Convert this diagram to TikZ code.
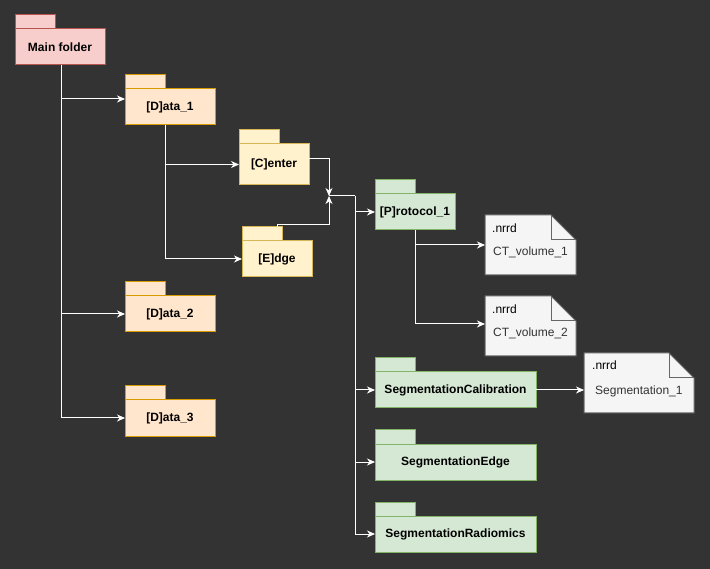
\documentclass[tikz,border=0pt]{standalone}
\usepackage{fontspec}
\setmainfont{Liberation Sans}
\usetikzlibrary{arrows.meta}
\definecolor{bg}{HTML}{333333}
\definecolor{redF}{HTML}{F8CECC}\definecolor{redD}{HTML}{B85450}
\definecolor{orgF}{HTML}{FFE6CC}\definecolor{orgD}{HTML}{D79B00}
\definecolor{yelF}{HTML}{FFF2CC}\definecolor{yelD}{HTML}{D6B656}
\definecolor{grnF}{HTML}{D5E8D4}\definecolor{grnD}{HTML}{82B366}
\definecolor{notF}{HTML}{F5F5F5}\definecolor{notD}{HTML}{666666}
\definecolor{notT}{HTML}{333333}
\newcommand\pkgbox[7]{%
  \draw[#6] (#2,#3) rectangle ++(40,-14);
  \node[#6, minimum width=#4pt, minimum height=#5pt, anchor=north west] (#1) at (#2,#3) {#7};
}
\newcommand\notebox[6]{% name, x, y, w, ext, file
  \node[minimum width=#4pt, minimum height=60pt, anchor=north west, inner sep=0pt, outer sep=0pt] (#1) at (#2,#3) {};
  \filldraw[notestyle] (#1.north west) -- ([xshift=-25pt]#1.north east) -- ([yshift=-25pt]#1.north east) -- (#1.south east) -- (#1.south west) -- cycle;
  \draw[notestyle, fill=none] ([xshift=-25pt]#1.north east) -- ([xshift=-25pt,yshift=-25pt]#1.north east) -- ([yshift=-25pt]#1.north east);
}
\begin{document}
\begin{tikzpicture}[x=1pt,y=-1pt,
  font=\fontsize{12}{14}\selectfont,
  pkg/.style={line width=1pt, inner sep=0pt, outer sep=0pt, font=\fontsize{12}{14}\selectfont\bfseries, text=black},
  redP/.style={pkg, fill=redF, draw=redD},
  orgP/.style={pkg, fill=orgF, draw=orgD},
  yelP/.style={pkg, fill=yelF, draw=yelD},
  grnP/.style={pkg, fill=grnF, draw=grnD},
  notestyle/.style={line width=1pt, fill=notF, draw=notD},
  ntxt/.style={anchor=base west, inner sep=0pt},
  conn/.style={draw=white, line width=1pt, -{Stealth[length=8pt,width=7pt,inset=2.5pt]}},
  line/.style={draw=white, line width=1pt}]
\fill[bg] (0,0) rectangle (710,569);
\useasboundingbox (0,0) rectangle (710,569);

% packages
\pkgbox{main}{15}{29}{90}{36}{redP}{Main folder}
\pkgbox{d1}{125}{89}{90}{36}{orgP}{[D]ata\_1}
\pkgbox{d2}{125}{296}{90}{36}{orgP}{[D]ata\_2}
\pkgbox{d3}{125}{400}{90}{36}{orgP}{[D]ata\_3}
\pkgbox{center}{239}{144}{70}{41}{yelP}{[C]enter}
\pkgbox{edge}{242}{241}{70}{36}{yelP}{[E]dge}
\pkgbox{proto}{375}{194}{80}{36}{grnP}{[P]rotocol\_1}
\pkgbox{scal}{375}{372}{161}{36}{grnP}{SegmentationCalibration}
\pkgbox{sedge}{375}{444}{161}{36}{grnP}{SegmentationEdge}
\pkgbox{srad}{375}{516}{161}{36}{grnP}{SegmentationRadiomics}

% notes
\notebox{ct1}{485}{215}{91}{}{}
\node[ntxt, text=black] (ct1a) at ([xshift=7pt,yshift=-18pt]ct1.north west) {.nrrd};
\node[ntxt, text=notT] (ct1b) at ([xshift=8pt,yshift=-41pt]ct1.north west) {CT\_volume\_1};
\notebox{ct2}{485}{296}{91}{}{}
\node[ntxt, text=black] (ct2a) at ([xshift=7pt,yshift=-18pt]ct2.north west) {.nrrd};
\node[ntxt, text=notT] (ct2b) at ([xshift=8pt,yshift=-41pt]ct2.north west) {CT\_volume\_2};
\notebox{seg1}{584}{353}{110}{}{}
\node[ntxt, text=black] (seg1a) at ([xshift=8pt,yshift=-17pt]seg1.north west) {.nrrd};
\node[ntxt, text=notT] (seg1b) at ([xshift=11pt,yshift=-42pt]seg1.north west) {Segmentation\_1};

% connectors
\draw[conn] ([xshift=1pt]main.south) |- ([yshift=8pt]d1.west);
\draw[conn] ([xshift=1pt]main.south) |- (d2.west);
\draw[conn] ([xshift=1pt]main.south) |- (d3.west);
\draw[conn] ([xshift=-5pt]d1.south) |- (center.west);
\draw[conn] ([xshift=-5pt]d1.south) |- (edge.west);

\coordinate (hub) at (329,196);
\coordinate (bus) at (355,196);
\draw[conn] ([yshift=6pt]center.east) -| (hub);
\draw[conn] ([yshift=14pt]edge.north) -- ++(0,-2) -| (hub);
\draw[line] (hub) -- (bus);
\draw[conn] (bus) |- (proto.west);
\draw[conn] (bus) |- (scal.west);
\draw[conn] (bus) |- (sedge.west);
\draw[conn] (bus) |- (srad.west);

\draw[conn] (proto.south) |- (ct1.west);
\draw[conn] (proto.south) |- ([yshift=2pt]ct2.west);
\draw[conn] (scal.east) -- (scal.east -| seg1.west);
\end{tikzpicture}
\end{document}
